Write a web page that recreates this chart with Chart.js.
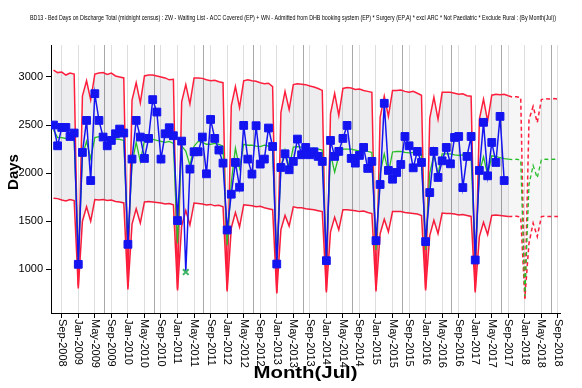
<!DOCTYPE html>
<html>
<head>
<meta charset="utf-8">
<script src="https://cdn.jsdelivr.net/npm/chart.js@4.4.0/dist/chart.umd.min.js"></script>
<style>
  html, body { margin: 0; padding: 0; background: #fff; }
</style>
</head>
<body>
<canvas id="bdchart" width="582" height="388"></canvas>
<script>
var chartTitle = 'BD13 - Bed Days on Discharge Total (midnight census) : ZW - Waiting List - ACC Covered (EP) + WN - Admitted from DHB booking system (EP) * Surgery (EP,A) * excl ARC * Not Paediatric * Exclude Rural : (By Month(Jul))';

var firstMonth = 'Jul-2008';

// monthly bed days, Jul-2008 .. Aug-2017 (one row per July year)
var actual = [
  2500, 2284, 2475, 2475, 2381, 2417, 1052, 2215, 2548, 1923, 2826, 2548,
  2375, 2284, 2340, 2409, 2458, 2417, 1260, 2146, 2548, 2375, 2153, 2361,
  2764, 2635, 2146, 2409, 2472, 2389, 1507, 2333, 972, 2042, 2222, 2222,
  2375, 1993, 2558, 2361, 2240, 2104, 1409, 1781, 2111, 1854, 2496, 2146,
  1990, 2493, 2094, 2146, 2469, 2277, 1055, 2059, 2201, 2035, 2122, 2354,
  2191, 2267, 2191, 2222, 2174, 2122, 1090, 2340, 2174, 2226, 2361, 2496,
  2153, 2104, 2184, 2267, 2049, 2122, 1298, 1882, 2726, 2028, 1937, 2007,
  2090, 2381, 2284, 2055, 2226, 2111, 1288, 1798, 2226, 1955, 2128, 2267,
  2097, 2371, 2381, 1850, 2174, 2381, 1097, 2028, 2528, 1972, 2319, 2111,
  2590, 1923
];

// expected (green), Jul-2008 .. Sep-2017
var expected = [
  2450, 2370, 2370, 2360, 2380, 2350, 1100, 2180, 2330, 2150, 2370, 2380,
  2360, 2340, 2345, 2355, 2350, 2340, 1250, 2100, 2320, 2120, 2340, 2350,
  2350, 2340, 2330, 2320, 2330, 2310, 1270, 2280, 2230, 2080, 2280, 2330,
  2320, 2300, 2300, 2310, 2300, 2280, 1250, 1900, 2260, 2050, 2300, 2290,
  2290, 2280, 2275, 2290, 2280, 2260, 1080, 2060, 2240, 2060, 2270, 2275,
  2270, 2260, 2255, 2260, 2250, 2240, 1120, 2200, 2010, 2180, 2250, 2250,
  2250, 2240, 2230, 2240, 2225, 2215, 1200, 2000, 2200, 2000, 2220, 2225,
  2225, 2215, 2210, 2215, 2200, 2190, 1200, 2000, 2190, 1990, 2200, 2200,
  2200, 2190, 2185, 2190, 2180, 2170, 1120, 2000, 2170, 1980, 2180, 2175,
  2160, 2150, 2145
];

// upper control limit, Jul-2008 .. Sep-2017
var upper = [
  3070, 3045, 3050, 3020, 3040, 3030, 830, 2800, 2960, 2760, 3030, 3040,
  3045, 3025, 3040, 3010, 3000, 2990, 820, 2760, 2940, 2730, 3010, 3020,
  3020, 3010, 3000, 2990, 2970, 2975, 800, 2740, 2920, 2720, 2990, 2990,
  2985, 2970, 2960, 2965, 2950, 2940, 790, 2700, 2900, 2680, 2960, 2970,
  2960, 2955, 2940, 2930, 2935, 2900, 760, 2630, 2850, 2660, 2920, 2930,
  2925, 2920, 2905, 2895, 2880, 2860, 780, 2620, 2830, 2600, 2880, 2890,
  2885, 2870, 2875, 2860, 2850, 2840, 790, 2580, 2800, 2590, 2860, 2860,
  2865, 2850, 2840, 2850, 2830, 2810, 800, 2570, 2790, 2560, 2840, 2840,
  2840, 2830, 2820, 2825, 2805, 2800, 780, 2560, 2770, 2540, 2810, 2820,
  2815, 2820, 2805
];

// lower control limit, Jul-2008 .. Sep-2017
var lower = [
  1740, 1735, 1720, 1710, 1725, 1715, 800, 1500, 1650, 1500, 1725, 1720,
  1725, 1715, 1720, 1705, 1700, 1690, 790, 1470, 1630, 1480, 1700, 1705,
  1700, 1695, 1690, 1680, 1685, 1670, 780, 1450, 1610, 1460, 1690, 1685,
  1680, 1670, 1675, 1660, 1665, 1650, 770, 1430, 1590, 1440, 1670, 1665,
  1660, 1650, 1655, 1640, 1630, 1620, 750, 1410, 1560, 1450, 1650, 1640,
  1640, 1630, 1625, 1620, 1610, 1600, 760, 1390, 1540, 1410, 1620, 1620,
  1615, 1610, 1600, 1605, 1590, 1580, 770, 1370, 1520, 1390, 1600, 1600,
  1600, 1590, 1585, 1580, 1575, 1560, 780, 1350, 1510, 1370, 1585, 1580,
  1580, 1575, 1565, 1570, 1560, 1550, 760, 1340, 1490, 1360, 1560, 1565,
  1560, 1555, 1550
];

// projection (dashed), Sep-2017 .. Sep-2018
var forecastStart = 'Sep-2017';
var fcExpected = [2145, 2140, 2145, 2135, 720, 1880, 2080, 1950, 2140, 2145, 2140, 2145, 2140];
var fcUpper    = [2805, 2790, 2795, 2785, 680, 2555, 2695, 2525, 2765, 2775, 2770, 2775, 2770];
var fcLower    = [1550, 1548, 1552, 1545, 700, 1270, 1480, 1340, 1548, 1552, 1548, 1550, 1548];

var flaggedMonths = ['Mar-2011'];

var tickLabels = [
  'Sep-2008', 'Jan-2009', 'May-2009', 'Sep-2009', 'Jan-2010', 'May-2010',
  'Sep-2010', 'Jan-2011', 'May-2011', 'Sep-2011', 'Jan-2012', 'May-2012',
  'Sep-2012', 'Jan-2013', 'May-2013', 'Sep-2013', 'Jan-2014', 'May-2014',
  'Sep-2014', 'Jan-2015', 'May-2015', 'Sep-2015', 'Jan-2016', 'May-2016',
  'Sep-2016', 'Jan-2017', 'May-2017', 'Sep-2017', 'Jan-2018', 'May-2018',
  'Sep-2018'
];
var yTicks = [1000, 1500, 2000, 2500, 3000];

var monthNames = ['Jan', 'Feb', 'Mar', 'Apr', 'May', 'Jun', 'Jul', 'Aug', 'Sep', 'Oct', 'Nov', 'Dec'];

/* months are counted from firstMonth, so Jul-2008 is 0 */
function monthIndex(label) {
  var p = label.split('-');
  var f = firstMonth.split('-');
  return (parseInt(p[1], 10) - parseInt(f[1], 10)) * 12 +
    monthNames.indexOf(p[0]) - monthNames.indexOf(f[0]);
}

function monthLabel(i) {
  var k = monthNames.indexOf(firstMonth.split('-')[0]) + i;
  return monthNames[k % 12] + '-' + (parseInt(firstMonth.split('-')[1], 10) + Math.floor(k / 12));
}

function toPoints(values, startLabel) {
  var s = startLabel ? monthIndex(startLabel) : 0;
  return values.map(function (v, i) { return {x: s + i, y: v}; });
}

function isFlagged(i) {
  return flaggedMonths.indexOf(monthLabel(i)) >= 0;
}

var RED = 'rgb(255, 30, 60)';
var GREEN = 'rgb(40, 190, 40)';
var BLUE = 'rgb(20, 20, 240)';
var FONT = '"Liberation Sans", Arial, sans-serif';

/* dark line at the start of each July year */
var yearLines = {
  id: 'yearLines',
  beforeDatasetsDraw: function (chart) {
    var ctx = chart.ctx, area = chart.chartArea, xs = chart.scales.x;
    ctx.save();
    ctx.strokeStyle = '#a9a9a9';
    ctx.lineWidth = 1;
    for (var m = 12; m <= xs.max; m += 12) {
      var px = Math.round(xs.getPixelForValue(m + 0.25)) + 0.5;
      ctx.beginPath();
      ctx.moveTo(px, area.top);
      ctx.lineTo(px, area.bottom);
      ctx.stroke();
    }
    ctx.restore();
  }
};

/* draw text squeezed or stretched to a given width */
function fitText(ctx, text, x, y, width) {
  var w = ctx.measureText(text).width;
  ctx.save();
  ctx.translate(x, y);
  ctx.scale(width / w, 1);
  ctx.fillText(text, 0, 0);
  ctx.restore();
}

/* all text is drawn here so it can be placed like the original */
var textLayer = {
  id: 'textLayer',
  afterDraw: function (chart) {
    var ctx = chart.ctx, area = chart.chartArea;
    var xs = chart.scales.x, ys = chart.scales.y;
    ctx.save();
    ctx.fillStyle = '#000';

    ctx.font = '8px ' + FONT;
    ctx.textAlign = 'center';
    ctx.textBaseline = 'middle';
    fitText(ctx, chartTitle, 293, 18, 526);

    ctx.font = '11px ' + FONT;
    ctx.textAlign = 'right';
    yTicks.forEach(function (v) {
      ctx.fillText(String(v), area.left - 8, ys.getPixelForValue(v));
    });

    ctx.font = '11px ' + FONT;
    ctx.textAlign = 'left';
    tickLabels.forEach(function (t) {
      ctx.save();
      ctx.translate(xs.getPixelForValue(monthIndex(t)), area.bottom + 6);
      ctx.rotate(Math.PI / 2);
      ctx.fillText(t, 0, 0);
      ctx.restore();
    });

    ctx.font = 'bold 16px ' + FONT;
    ctx.textAlign = 'center';
    fitText(ctx, 'Month(Jul)', (area.left + area.right) / 2, 374, 104);
    ctx.font = 'bold 15px ' + FONT;
    ctx.save();
    ctx.translate(14, 172);
    ctx.rotate(-Math.PI / 2);
    ctx.fillText('Days', 0, 0);
    ctx.restore();

    ctx.restore();
  }
};

var ctx = document.getElementById('bdchart').getContext('2d');
var chart = new Chart(ctx, {
  type: 'line',
  data: {
    datasets: [
      {
        label: 'Actual',
        data: toPoints(actual),
        borderColor: BLUE,
        borderWidth: 1.5,
        pointStyle: function (c) { return isFlagged(c.dataIndex) ? 'crossRot' : 'rect'; },
        pointRadius: function (c) { return isFlagged(c.dataIndex) ? 4 : 5.5; },
        pointBackgroundColor: function (c) { return isFlagged(c.dataIndex) ? 'rgb(60, 180, 100)' : BLUE; },
        pointBorderColor: function (c) { return isFlagged(c.dataIndex) ? 'rgb(60, 180, 100)' : BLUE; },
        pointBorderWidth: function (c) { return isFlagged(c.dataIndex) ? 2 : 1; },
        fill: false
      },
      {
        label: 'Expected',
        data: toPoints(expected),
        borderColor: GREEN,
        borderWidth: 1.3,
        pointRadius: 0,
        fill: false
      },
      {
        label: 'Upper',
        data: toPoints(upper),
        borderColor: RED,
        borderWidth: 1.5,
        pointRadius: 0,
        fill: '+1',
        backgroundColor: 'rgba(20, 20, 60, 0.075)'
      },
      {
        label: 'Lower',
        data: toPoints(lower),
        borderColor: RED,
        borderWidth: 1.5,
        pointRadius: 0,
        fill: false
      },
      {
        label: 'Expected (projected)',
        data: toPoints(fcExpected, forecastStart),
        borderColor: GREEN,
        borderWidth: 1.3,
        borderDash: [4, 3],
        pointRadius: 0,
        fill: false
      },
      {
        label: 'Upper (projected)',
        data: toPoints(fcUpper, forecastStart),
        borderColor: RED,
        borderWidth: 1.5,
        borderDash: [4, 3],
        pointRadius: 0,
        fill: '+1',
        backgroundColor: 'rgba(20, 20, 60, 0.04)'
      },
      {
        label: 'Lower (projected)',
        data: toPoints(fcLower, forecastStart),
        borderColor: RED,
        borderWidth: 1.5,
        borderDash: [4, 3],
        pointRadius: 0,
        fill: false
      }
    ]
  },
  options: {
    responsive: false,
    animation: false,
    layout: { padding: { left: 46, top: 45, right: 22, bottom: 70 } },
    plugins: {
      legend: { display: false },
      tooltip: { enabled: false },
      title: { display: false }
    },
    elements: { line: { tension: 0 } },
    scales: {
      x: {
        type: 'linear',
        min: monthIndex(firstMonth) - 0.6,
        max: monthIndex(tickLabels[tickLabels.length - 1]) + 0.5,
        afterBuildTicks: function (scale) {
          scale.ticks = tickLabels.map(function (t) { return {value: monthIndex(t)}; });
        },
        ticks: { display: false },
        grid: { color: '#dedede', tickColor: '#000', tickLength: 5, drawTicks: true },
        border: { color: '#000', width: 1 }
      },
      y: {
        min: 546,
        max: 3332,
        afterBuildTicks: function (scale) {
          scale.ticks = yTicks.map(function (v) { return {value: v}; });
        },
        ticks: { display: false },
        grid: { drawOnChartArea: false, tickColor: '#000', tickLength: 5, drawTicks: true },
        border: { color: '#000', width: 1 }
      }
    }
  },
  plugins: [yearLines, textLayer]
});
</script>
</body>
</html>
